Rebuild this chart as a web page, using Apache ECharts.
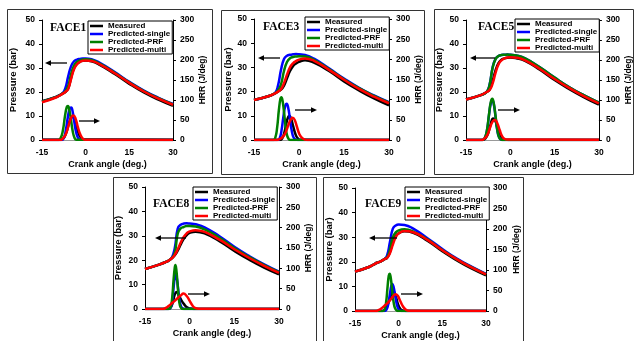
<!DOCTYPE html>
<html><head><meta charset="utf-8">
<script src="https://cdn.jsdelivr.net/npm/echarts@6/dist/echarts.min.js"></script>
<style>html,body{margin:0;padding:0;background:#fff}#c{width:634px;height:341px}</style>
</head><body><div id="c"></div>
<script>
// ---------- data ----------
const seriesNames = ['Measured', 'Predicted-single', 'Predicted-PRF', 'Predicted-multi'];
const panelTitles = ['FACE1', 'FACE3', 'FACE5', 'FACE8', 'FACE9'];
const crankRange = [-15, 30, 15];      // min, max, step
const pressureRange = [0, 50, 10];
const hrrRange = [0, 300, 50];
const pressureAngles = [-15, -10, -8, -7, -6, -5, -4, -3, -2, -1, 0, 2, 5, 10, 15, 20, 25, 30];

const face1PressureMeasured = [16.2, 18.1, 19.3, 20.0, 21.5, 26.0, 30.0, 31.8, 32.6, 33.0, 33.1, 32.8, 31.2, 27.5, 23.4, 19.8, 16.8, 14.2];
const face1PressureSingle   = [16.0, 18.0, 19.4, 21.5, 26.5, 30.8, 32.8, 33.5, 33.8, 34.0, 34.0, 33.7, 32.0, 28.3, 24.2, 20.6, 17.6, 15.0];
const face1PressurePRF      = [16.0, 18.0, 19.3, 20.3, 22.5, 27.5, 31.0, 32.5, 33.2, 33.5, 33.6, 33.3, 31.7, 28.0, 24.0, 20.4, 17.4, 14.8];
const face1PressureMulti    = [15.7, 17.8, 19.2, 20.0, 21.3, 25.5, 29.5, 31.5, 32.5, 33.0, 33.1, 32.9, 31.4, 27.8, 23.8, 20.2, 17.2, 14.7];

const face3PressureMeasured = [16.5, 18.2, 19.3, 20.0, 20.8, 22.5, 25.5, 28.5, 30.5, 31.6, 32.3, 33.0, 32.0, 28.5, 24.2, 20.5, 17.2, 14.3];
const face3PressureSingle   = [16.5, 18.2, 19.4, 22.5, 29.0, 33.5, 34.8, 35.2, 35.4, 35.5, 35.4, 35.1, 33.6, 29.6, 25.4, 21.6, 18.4, 15.6];
const face3PressurePRF      = [16.5, 18.2, 19.3, 20.5, 23.0, 28.5, 32.2, 33.8, 34.3, 34.5, 34.6, 34.5, 33.1, 29.3, 25.1, 21.4, 18.2, 15.4];
const face3PressureMulti    = [16.5, 18.2, 19.3, 20.0, 21.0, 23.5, 27.0, 30.0, 31.7, 32.6, 33.2, 33.7, 32.7, 29.0, 24.9, 21.1, 17.9, 15.2];

const face5PressureMeasured = [16.9, 18.7, 20.0, 21.0, 24.5, 29.0, 32.0, 33.5, 34.0, 34.3, 34.4, 34.1, 33.0, 29.3, 25.0, 21.2, 17.8, 14.7];
const face5PressureSingle   = [16.9, 18.7, 20.1, 23.2, 30.2, 33.8, 35.0, 35.4, 35.5, 35.6, 35.5, 35.2, 34.0, 30.3, 26.0, 22.0, 18.6, 15.6];
const face5PressurePRF      = [16.9, 18.7, 20.0, 23.0, 30.0, 33.7, 35.0, 35.4, 35.5, 35.6, 35.5, 35.2, 34.0, 30.3, 26.0, 22.0, 18.6, 15.6];
const face5PressureMulti    = [16.9, 18.7, 20.0, 20.8, 23.5, 28.0, 31.5, 33.2, 34.0, 34.4, 34.5, 34.3, 33.2, 29.6, 25.4, 21.6, 18.2, 15.3];

const face8PressureMeasured = [16.4, 18.3, 19.3, 19.9, 20.8, 22.0, 24.0, 26.5, 28.8, 30.3, 31.2, 31.7, 31.0, 27.8, 23.8, 20.2, 17.0, 14.2];
const face8PressureSingle   = [16.4, 18.3, 19.3, 19.9, 21.0, 25.0, 33.0, 34.5, 35.0, 35.1, 35.0, 34.7, 33.5, 29.8, 25.5, 21.7, 18.3, 15.3];
const face8PressurePRF      = [16.4, 18.3, 19.3, 19.9, 20.9, 23.0, 31.0, 33.0, 33.6, 34.0, 34.0, 33.8, 32.6, 29.2, 25.0, 21.3, 18.0, 15.1];
const face8PressureMulti    = [16.4, 18.3, 19.3, 19.9, 20.8, 22.2, 24.5, 27.2, 29.5, 31.0, 31.8, 32.3, 31.6, 28.4, 24.5, 20.9, 17.7, 14.8];

const face9PressureMeasured = [16.0, 18.0, 19.3, 19.8, 20.3, 21.0, 21.6, 24.0, 28.0, 30.5, 31.6, 32.4, 31.8, 28.5, 24.3, 20.6, 17.3, 14.5];
const face9PressureSingle   = [16.0, 18.0, 19.3, 19.8, 20.3, 21.0, 22.5, 28.0, 33.5, 34.8, 35.2, 35.0, 33.5, 29.5, 25.2, 21.3, 18.0, 15.1];
const face9PressurePRF      = [16.0, 18.0, 19.3, 19.8, 20.3, 21.0, 21.8, 25.0, 30.0, 32.0, 32.8, 33.2, 32.3, 29.0, 24.8, 21.0, 17.8, 14.9];
const face9PressureMulti    = [16.0, 18.0, 19.3, 19.8, 20.3, 21.0, 21.6, 23.5, 27.0, 30.0, 31.5, 32.5, 32.0, 28.8, 24.7, 21.0, 17.7, 14.9];

// heat release rate: [crank angle, HRR]
const face1HrrMeasured = [[-15,0.5],[-8.5,0.5],[-7.6,4],[-6.6,20],[-5.6,45],[-4.6,58],[-3.8,50],[-3,30],[-2.1,11],[-1.2,3],[0,1],[30,0.5]];
const face1HrrSingle   = [[-15,0],[-8.3,0],[-7.5,5],[-6.8,25],[-6.1,58],[-5.5,78],[-5,81],[-4.5,72],[-3.9,45],[-3.2,17],[-2.5,4],[-1.8,0.5],[30,0]];
const face1HrrPRF      = [[-15,0],[-9.5,0],[-8.6,5],[-7.8,25],[-7.1,60],[-6.5,82],[-6.1,85],[-5.6,75],[-5,48],[-4.4,20],[-3.8,5],[-3.2,0.5],[30,0]];
const face1HrrMulti    = [[-15,0],[-8.8,0],[-7.8,4],[-6.8,15],[-5.8,38],[-4.9,57],[-4.2,61],[-3.5,54],[-2.7,33],[-1.8,13],[-0.9,3],[0,0.5],[30,0]];

const face3HrrMeasured = [[-15,0],[-6.3,0],[-5.6,4],[-4.9,18],[-4.2,42],[-3.6,57],[-3.2,60],[-2.7,54],[-2,36],[-1.2,15],[-0.4,4],[0.5,0.5],[30,0]];
const face3HrrSingle   = [[-15,0],[-7,0],[-6.4,5],[-5.8,25],[-5.2,58],[-4.6,84],[-4.1,90],[-3.6,80],[-3,52],[-2.4,22],[-1.8,6],[-1.1,1],[-0.3,0],[30,0]];
const face3HrrPRF      = [[-15,0],[-8.6,0],[-7.9,6],[-7.3,30],[-6.7,75],[-6.2,102],[-5.9,106],[-5.5,98],[-5,70],[-4.5,35],[-4,12],[-3.4,2],[-2.8,0],[30,0]];
const face3HrrMulti    = [[-15,0],[-7.5,0],[-6.5,2],[-5.5,7],[-4.5,18],[-3.6,36],[-2.8,50],[-2.1,55],[-1.4,49],[-0.7,33],[0.1,15],[1,5],[2,1],[3,0],[30,0]];

const face5HrrMeasured = [[-15,0],[-9.3,0],[-8.5,3],[-7.6,15],[-6.7,38],[-5.8,54],[-5.2,50],[-4.4,32],[-3.6,13],[-2.7,4],[-1.8,1],[-0.5,0],[30,0]];
const face5HrrSingle   = [[-15,0],[-9.5,0],[-8.7,4],[-7.9,24],[-7.2,63],[-6.6,92],[-6.1,100],[-5.6,90],[-5,58],[-4.4,24],[-3.8,7],[-3.1,1],[-2.3,0],[30,0]];
const face5HrrPRF      = [[-15,0],[-9.5,0],[-8.7,4],[-7.9,25],[-7.2,65],[-6.6,95],[-6.1,103],[-5.6,92],[-5,60],[-4.4,25],[-3.8,7],[-3.1,1],[-2.3,0],[30,0]];
const face5HrrMulti    = [[-15,0],[-9.8,0],[-8.8,3],[-7.8,12],[-6.9,30],[-6,46],[-5.2,50],[-4.4,42],[-3.6,25],[-2.8,10],[-2,3],[-1,1],[30,0.5]];

const face8HrrMeasured = [[-15,0],[-7.3,0],[-6.5,3],[-5.7,15],[-5,36],[-4.4,42],[-3.7,34],[-2.9,23],[-1.9,12],[-0.9,4],[0.2,1],[1.5,0],[30,0]];
const face8HrrSingle   = [[-15,0],[-6.9,0],[-6.3,4],[-5.8,22],[-5.3,60],[-4.9,83],[-4.7,86],[-4.3,75],[-3.8,45],[-3.3,18],[-2.8,5],[-2.2,1],[-1.5,0],[30,0]];
const face8HrrPRF      = [[-15,0],[-7,0],[-6.4,4],[-5.9,25],[-5.4,72],[-5,102],[-4.8,108],[-4.5,98],[-4.1,65],[-3.7,30],[-3.3,10],[-2.8,2],[-2.2,0],[30,0]];
const face8HrrMulti    = [[-15,0],[-9,0],[-8,3],[-7,8],[-6,14],[-5,20],[-4,27],[-3,33],[-2.1,38],[-1,32],[0,20],[1,8],[2,2],[3,0.5],[30,0]];

const face9HrrMeasured = [[-15,0],[-5.8,0],[-4.8,3],[-3.8,15],[-2.7,38],[-1.9,48],[-1.1,38],[-0.3,18],[0.6,5],[1.5,1],[2.5,0],[30,0]];
const face9HrrSingle   = [[-15,0],[-4.8,0],[-4.2,3],[-3.6,16],[-3,42],[-2.5,62],[-2.2,66],[-1.8,60],[-1.2,38],[-0.6,15],[0,4],[0.7,0.5],[1.5,0],[30,0]];
const face9HrrPRF      = [[-15,0],[-5.4,0],[-4.8,4],[-4.3,22],[-3.8,60],[-3.4,86],[-3.1,91],[-2.7,80],[-2.2,48],[-1.7,20],[-1.2,6],[-0.6,1],[0,0],[30,0]];
const face9HrrMulti    = [[-15,0],[-8,0],[-7,2],[-6,6],[-5,12],[-4,18],[-3,26],[-2,35],[-1.1,41],[-0.3,37],[0.5,25],[1.5,11],[2.5,3],[3.5,0.5],[30,0]];

const pressureByPanel = [
  [face1PressureMeasured, face1PressureSingle, face1PressurePRF, face1PressureMulti],
  [face3PressureMeasured, face3PressureSingle, face3PressurePRF, face3PressureMulti],
  [face5PressureMeasured, face5PressureSingle, face5PressurePRF, face5PressureMulti],
  [face8PressureMeasured, face8PressureSingle, face8PressurePRF, face8PressureMulti],
  [face9PressureMeasured, face9PressureSingle, face9PressurePRF, face9PressureMulti]
];
const hrrByPanel = [
  [face1HrrMeasured, face1HrrSingle, face1HrrPRF, face1HrrMulti],
  [face3HrrMeasured, face3HrrSingle, face3HrrPRF, face3HrrMulti],
  [face5HrrMeasured, face5HrrSingle, face5HrrPRF, face5HrrMulti],
  [face8HrrMeasured, face8HrrSingle, face8HrrPRF, face8HrrMulti],
  [face9HrrMeasured, face9HrrSingle, face9HrrPRF, face9HrrMulti]
];

// ---------- layout / style ----------
const colors = ['#000000', '#0000ff', '#008000', '#ff0000'];
const FONT = 'Liberation Sans';
const layout = [
  {grid:[42,20,131,120],  box:[7,9,205,164],   legend:[88,21],  title:[50,29],  gapL:23.5, gapR:25.5, arrL:[45,67,63],    arrR:[79,100,121]},
  {grid:[254,19,135,121], box:[221,10,203,164], legend:[305,17], title:[263,28], gapL:19.5, gapR:15.5, arrL:[258,280,58],  arrR:[295,317,110]},
  {grid:[466,20,133,120], box:[434,9,199,165],  legend:[515,19], title:[478,28], gapL:21.5, gapR:24.5, arrL:[470,495,58],  arrR:[498,520,110]},
  {grid:[145,187,134,122],box:[113,177,203,175],legend:[193,187],title:[153,205],gapL:21.5, gapR:23.5, arrL:[155,186,238], arrR:[188,210,294]},
  {grid:[355,188,131,123],box:[323,177,200,175],legend:[405,187],title:[365,205],gapL:20.5, gapR:26.5, arrL:[369,397,238], arrR:[401,423,294]}
];

const grid = [], xAxis = [], yAxis = [], series = [], legend = [], graphic = [];
const tickLabel = {fontSize: 8.5, fontWeight: 'bold', fontFamily: FONT, color: '#000'};

layout.forEach((L, p) => {
  graphic.push({type:'rect', shape:{x:L.box[0]+0.5, y:L.box[1]+0.5, width:L.box[2], height:L.box[3]},
    style:{fill:'none', stroke:'#333', lineWidth:1}, z:-1});
  grid.push({left:L.grid[0], top:L.grid[1], width:L.grid[2], height:L.grid[3], containLabel:false});
  xAxis.push({type:'value', gridIndex:p, min:crankRange[0], max:crankRange[1], interval:crankRange[2],
    name:'Crank angle (deg.)', nameLocation:'middle', nameGap:20,
    nameTextStyle:{fontSize:9, fontWeight:'bold', fontFamily:FONT, color:'#000'},
    axisLine:{onZero:false, lineStyle:{color:'#999', width:1}}, axisTick:{show:false},
    axisLabel:Object.assign({margin:8}, tickLabel), splitLine:{show:false}});
  yAxis.push({type:'value', gridIndex:p, position:'left', min:pressureRange[0], max:pressureRange[1], interval:pressureRange[2],
    name:'Pressure (bar)', nameLocation:'middle', nameGap:L.gapL, nameRotate:90,
    nameTextStyle:{fontSize:9.5, fontWeight:'bold', fontFamily:FONT, color:'#000'},
    axisLine:{show:true, onZero:false, lineStyle:{color:'#000', width:1}}, axisTick:{show:true, length:3, lineStyle:{color:'#000'}},
    axisLabel:Object.assign({margin:7}, tickLabel), splitLine:{show:false}});
  yAxis.push({type:'value', gridIndex:p, position:'right', min:hrrRange[0], max:hrrRange[1], interval:hrrRange[2],
    name:'HRR (J/deg)', nameLocation:'middle', nameGap:L.gapR, nameRotate:90,
    nameTextStyle:{fontSize:8.5, fontWeight:'bold', fontFamily:FONT, color:'#000'},
    axisLine:{show:true, onZero:false, lineStyle:{color:'#000', width:1}}, axisTick:{show:true, length:3, lineStyle:{color:'#000'}},
    axisLabel:Object.assign({margin:7}, tickLabel), splitLine:{show:false}});

  seriesNames.forEach((name, m) => {
    series.push({type:'line', name, xAxisIndex:p, yAxisIndex:2*p+1, smooth:0.5, symbol:'none',
      lineStyle:{color:colors[m], width:2.5}, itemStyle:{color:colors[m]},
      data: hrrByPanel[p][m], silent:true, animation:false});
  });
  seriesNames.forEach((name, m) => {
    series.push({type:'line', name, xAxisIndex:p, yAxisIndex:2*p, smooth:0.5, symbol:'none',
      lineStyle:{color:colors[m], width:2.5}, itemStyle:{color:colors[m]},
      data: pressureAngles.map((a, i) => [a, pressureByPanel[p][m][i]]), silent:true, animation:false});
  });

  legend.push({left:L.legend[0], top:L.legend[1], orient:'vertical', data:seriesNames,
    backgroundColor:'#fff', borderColor:'#000', borderWidth:1, padding:[1,2,0,2], itemGap:0,
    itemWidth:13, itemHeight:2.5, icon:'rect', selectedMode:false,
    textStyle:{fontSize:8, fontWeight:'bold', fontFamily:FONT, color:'#000', lineHeight:8}});

  graphic.push({type:'text', left:L.title[0], top:L.title[1]-7,
    style:{text:panelTitles[p], font:'bold 11.5px "Liberation Serif"', fill:'#000'}, z:10});

  // arrows
  const [a1, a2, ay] = L.arrL;
  graphic.push({type:'line', shape:{x1:a1+5, y1:ay, x2:a2, y2:ay}, style:{stroke:'#000', lineWidth:1.3}, z:10});
  graphic.push({type:'polygon', shape:{points:[[a1,ay],[a1+6,ay-2.8],[a1+6,ay+2.8]]}, style:{fill:'#000'}, z:10});
  const [b1, b2, by] = L.arrR;
  graphic.push({type:'line', shape:{x1:b1, y1:by, x2:b2-5, y2:by}, style:{stroke:'#000', lineWidth:1.3}, z:10});
  graphic.push({type:'polygon', shape:{points:[[b2,by],[b2-6,by-2.8],[b2-6,by+2.8]]}, style:{fill:'#000'}, z:10});
});

const chart = echarts.init(document.getElementById('c'), null, {renderer:'canvas'});
chart.setOption({animation:false, backgroundColor:'#fff', grid, xAxis, yAxis, series, legend, graphic});
</script>
</body></html>
